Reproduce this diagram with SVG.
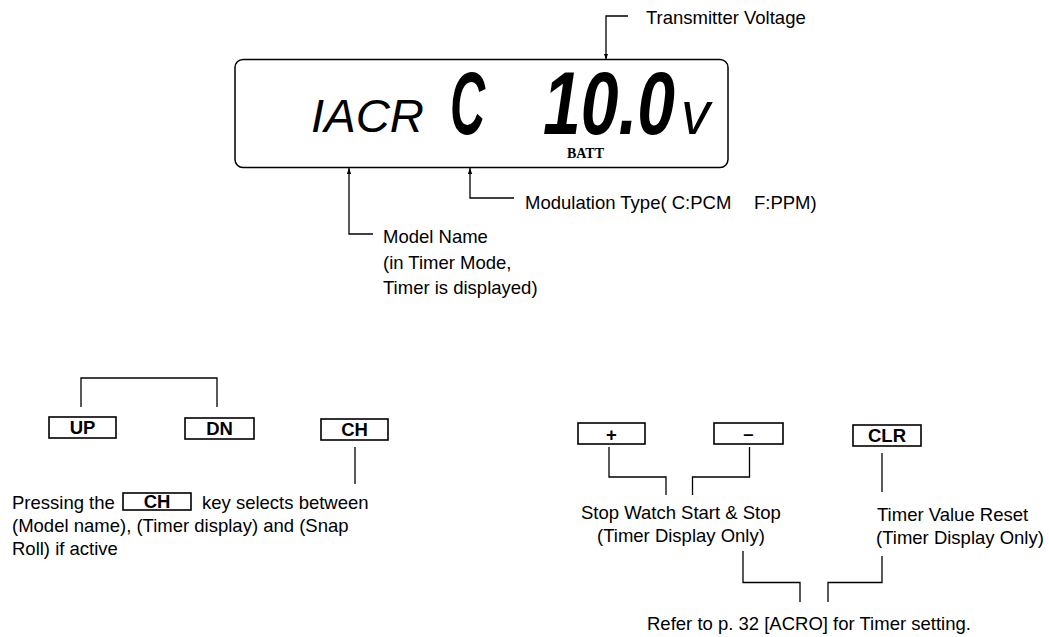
<svg xmlns="http://www.w3.org/2000/svg" width="1049" height="637" viewBox="0 0 1049 637">
<defs>
<style>
.t{font-family:"Liberation Sans",Arial,sans-serif;font-size:18.5px;fill:#000}
.k{font-family:"Liberation Sans",Arial,sans-serif;font-size:18.5px;font-weight:bold;fill:#000;text-anchor:middle}
.lcd{font-family:"Liberation Sans",Arial,sans-serif;font-style:italic;fill:#000}
.box{fill:#fff;stroke:#000;stroke-width:1.6}
.ln{fill:none;stroke:#000;stroke-width:1.3}
</style>
<marker id="ah" viewBox="0 0 6 6" refX="6" refY="3" markerWidth="6" markerHeight="6" orient="auto" markerUnits="userSpaceOnUse">
<path d="M0,0.8 L6,3 L0,5.2 Z" fill="#000"/>
</marker>
</defs>
<rect width="1049" height="637" fill="#fff"/>

<g id="lcd">
<rect x="235" y="59.5" width="493" height="108" rx="8" ry="8" fill="#fff" stroke="#000" stroke-width="1.5"/>
<text class="lcd" x="311" y="132" font-size="47" textLength="113" lengthAdjust="spacingAndGlyphs">IACR</text>
<text class="lcd" x="450" y="134" font-size="89" font-weight="bold" textLength="35" lengthAdjust="spacingAndGlyphs">C</text>
<text class="lcd" x="543" y="134" font-size="89" font-weight="bold" textLength="132" lengthAdjust="spacingAndGlyphs">10.0</text>
<text class="lcd" x="681" y="134" font-size="62" textLength="29" lengthAdjust="spacingAndGlyphs">v</text>
<text x="567" y="158" font-family="'Liberation Serif','Times New Roman',serif" font-weight="bold" font-size="14" textLength="37" lengthAdjust="spacingAndGlyphs">BATT</text>
</g>

<g id="label-transmitter">
<text class="t" x="646" y="24">Transmitter Voltage</text>
</g>
<g id="label-modulation">
<text class="t" x="525" y="209">Modulation Type( C:PCM</text>
<text class="t" x="754" y="209">F:PPM)</text>
</g>
<g id="label-model">
<text class="t" x="383" y="243">Model Name</text>
<text class="t" x="383" y="269">(in Timer Mode,</text>
<text class="t" x="383" y="294">Timer is displayed)</text>
</g>

<g id="key-up"><rect class="box" x="49" y="417" width="67" height="21"/><text class="k" x="82.5" y="434">UP</text></g>
<g id="key-dn"><rect class="box" x="185" y="418" width="69" height="21"/><text class="k" x="219.5" y="435">DN</text></g>
<g id="key-ch"><rect class="box" x="321" y="419" width="67" height="21"/><text class="k" x="354.5" y="436">CH</text></g>

<g id="label-ch">
<text class="t" x="12" y="509">Pressing the</text>
<rect class="box" x="123" y="493" width="68" height="17"/>
<text class="k" x="157" y="508">CH</text>
<text class="t" x="202" y="509">key selects between</text>
<text class="t" x="12" y="532">(Model name), (Timer display) and (Snap</text>
<text class="t" x="12" y="555">Roll) if active</text>
</g>

<g id="key-plus"><rect class="box" x="578" y="423" width="67" height="21"/><text class="k" x="611.5" y="441">+</text></g>
<g id="key-minus"><rect class="box" x="714" y="423" width="69" height="21"/><text class="k" x="748.5" y="440">–</text></g>
<g id="key-clr"><rect class="box" x="853" y="425" width="68" height="21"/><text class="k" x="887" y="442">CLR</text></g>

<g id="label-stopwatch">
<text class="t" x="581" y="519">Stop Watch Start &amp; Stop</text>
<text class="t" x="597" y="542">(Timer Display Only)</text>
</g>
<g id="label-reset">
<text class="t" x="877" y="521">Timer Value Reset</text>
<text class="t" x="876" y="544">(Timer Display Only)</text>
</g>
<g id="label-refer">
<text class="t" x="647" y="630">Refer to p. 32 [ACRO] for Timer setting.</text>
</g>

<g id="connectors">
<path class="ln" d="M628,16 H606 V59.5" marker-end="url(#ah)"/>
<path class="ln" d="M373,234 H349 V168" marker-end="url(#ah)"/>
<path class="ln" d="M514,198 H470 V168" marker-end="url(#ah)"/>
<path class="ln" d="M81,407 V378 H217 V407"/>
<path class="ln" d="M355,447 V484"/>
<path class="ln" d="M609,447 V477 H666 V495"/>
<path class="ln" d="M749.5,447 V477 H692.5 V495"/>
<path class="ln" d="M882,453 V492"/>
<path class="ln" d="M743,551 V582.5 H800 V602"/>
<path class="ln" d="M882,556 V582.5 H828 V602"/>
</g>
</svg>
